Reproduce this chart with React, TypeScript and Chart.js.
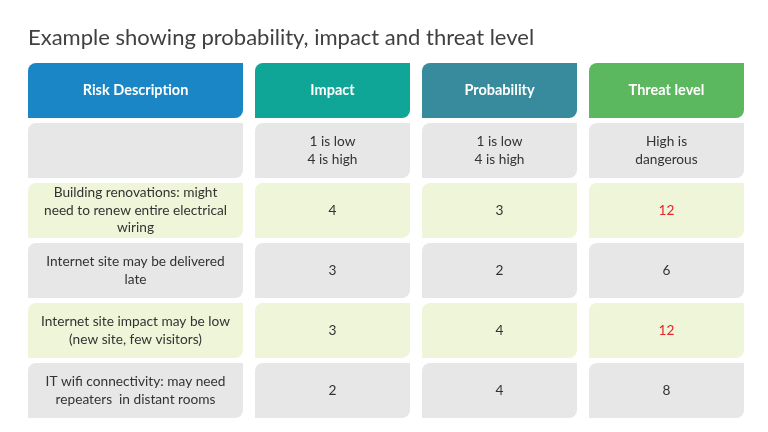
import React, { useEffect, useRef } from "react";
import { Chart, registerables } from "chart.js";

Chart.register(...registerables);

// ---- data ----
const TITLE = "Example showing probability, impact and threat level";
const ROW_KEYS = ["header", "scale", "risk1", "risk2", "risk3", "risk4"];
const HEADERS = ["Risk Description", "Impact", "Probability", "Threat level"];
const SCALE_NOTES = ["", "1 is low\n4 is high", "1 is low\n4 is high", "High is\ndangerous"];
const RISKS = [
  "Building renovations: might\nneed to renew entire electrical\nwiring",
  "Internet site may be delivered\nlate",
  "Internet site impact may be low\n(new site, few visitors)",
  "IT wifi connectivity: may need\nrepeaters  in distant rooms",
];
const IMPACT = [4, 3, 3, 2];
const PROBABILITY = [3, 2, 4, 4];
const THREAT = [12, 6, 12, 8];
const DANGER_THRESHOLD = 12;

// ---- layout / style ----
const COLUMN_SPANS: [number, number][] = [
  [0, 215],
  [227, 382],
  [394, 549],
  [561, 716],
];
const HEADER_COLORS = ["#1b86c6", "#0fa697", "#388b9d", "#5cb85f"];
const GRAY = "#e7e7e7";
const GREEN = "#eef5d8";
const FONT = "Lato";

function cellText(col: number, row: number): string {
  if (row === 0) return HEADERS[col];
  if (row === 1) return SCALE_NOTES[col];
  const i = row - 2;
  if (col === 0) return RISKS[i];
  if (col === 1) return String(IMPACT[i]);
  if (col === 2) return String(PROBABILITY[i]);
  return String(THREAT[i]);
}

function cellColor(col: number, row: number): string {
  if (row === 0) return "#ffffff";
  if (col === 3 && row >= 2 && THREAT[row - 2] >= DANGER_THRESHOLD) return "#e3262b";
  return "#333333";
}

const cellTextPlugin = {
  id: "cellText",
  afterDatasetsDraw(chart: any) {
    const ctx = chart.ctx;
    ctx.save();
    ctx.textAlign = "center";
    ctx.textBaseline = "middle";
    chart.data.datasets.forEach((_: any, col: number) => {
      const meta = chart.getDatasetMeta(col);
      meta.data.forEach((el: any, row: number) => {
        const { x, y, base } = el.getProps(["x", "y", "base"], true);
        const cx = (x + base) / 2;
        const lines = cellText(col, row).split("\n");
        const size = row === 0 ? 14.5 : 13.7;
        const lh = 17.5;
        ctx.font = `${row === 0 ? "bold " : ""}${size}px ${FONT}`;
        ctx.fillStyle = cellColor(col, row);
        const startY = y - ((lines.length - 1) * lh) / 2;
        lines.forEach((ln, k) => ctx.fillText(ln, cx, startY + k * lh));
      });
    });
    ctx.restore();
  },
};

export default function App() {
  const ref = useRef<HTMLCanvasElement | null>(null);
  useEffect(() => {
    if (!ref.current) return;
    const datasets = COLUMN_SPANS.map((span, col) => ({
      label: HEADERS[col],
      data: ROW_KEYS.map(() => span),
      backgroundColor: ROW_KEYS.map((_, r) =>
        r === 0 ? HEADER_COLORS[col] : r % 2 === 0 ? GREEN : GRAY
      ),
      borderWidth: 0,
      borderSkipped: false,
      borderRadius: { topLeft: 8, topRight: 0, bottomLeft: 0, bottomRight: 8 },
      grouped: false,
      barPercentage: 55 / 60,
      categoryPercentage: 1,
    }));
    const chart = new Chart(ref.current, {
      type: "bar",
      data: { labels: ROW_KEYS, datasets: datasets as any },
      options: {
        indexAxis: "y",
        animation: false,
        responsive: false,
        layout: { padding: { left: 28, right: 24, top: 0, bottom: 11.5 } },
        scales: {
          x: { type: "linear", min: 0, max: 716, display: false },
          y: { type: "category", display: false, offset: true },
        },
        plugins: {
          legend: { display: false },
          tooltip: { enabled: false },
          title: {
            display: true,
            text: TITLE,
            align: "start",
            color: "#404040",
            font: { family: FONT, size: 22, weight: "normal", lineHeight: 1.2 },
            padding: { top: 24.6, bottom: 9.5 },
          },
        },
      },
      plugins: [cellTextPlugin],
    });
    return () => chart.destroy();
  }, []);
  return (
    <div style={{ position: "absolute", left: 0, top: 0, width: 768, height: 432, background: "#fff" }}>
      <canvas ref={ref} width={768} height={432} style={{ display: "block" }} />
    </div>
  );
}
